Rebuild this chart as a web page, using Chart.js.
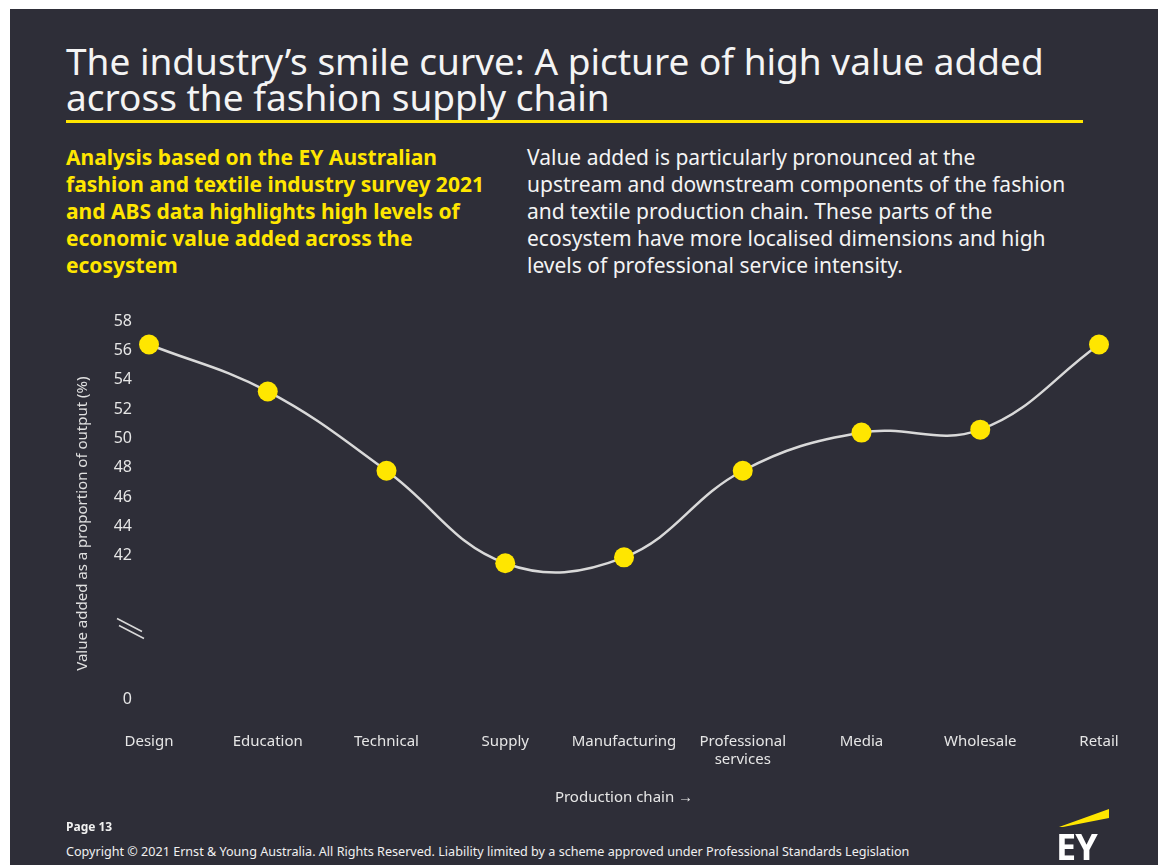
<!DOCTYPE html>
<html>
<head>
<meta charset="utf-8">
<script src="https://cdn.jsdelivr.net/npm/chart.js@4.4.0/dist/chart.umd.min.js"></script>
<style>
  body { margin: 0; background: #ffffff; font-family: 'Noto Sans', sans-serif; }
  #slide { position: absolute; left: 10px; top: 9px; width: 1148px; height: 856px; background: #2e2e38; }
  .abs { position: absolute; white-space: nowrap; }
  .title { left: 66px; font-size: 37px; line-height: 36px; color: #f4f4f4; }
  #rule { left: 66px; top: 120px; width: 1017px; height: 3px; background: #ffe600; }
  #lead { left: 66px; top: 144px; font-size: 21px; line-height: 27px; font-weight: bold; color: #ffe600; }
  #body { left: 527px; top: 144px; font-size: 21px; line-height: 27px; color: #f4f4f4; }
  #page { left: 66px; top: 819px; font-size: 12px; line-height: 16px; font-weight: bold; color: #f0f0f0; }
  #copy { left: 66px; top: 844px; font-size: 12.6px; line-height: 16px; color: #f0f0f0; }
  #eybar { left: 1059px; top: 808px; width: 51px; height: 20px; background: #ffe600;
           clip-path: polygon(0px 19px, 50px 1px, 50px 10px, 4px 19px); }
  #eytext { left: 1056px; top: 829px; font-size: 36px; line-height: 36px; font-weight: bold; color: #ffffff; letter-spacing: -1px; }
  #mycanvas { position: absolute; left: 60px; top: 300px; }
</style>
</head>
<body>
<div id="slide"></div>
<div class="abs title" style="top:43px">The industry’s smile curve: A picture of high value added</div>
<div class="abs title" style="top:79px">across the fashion supply chain</div>
<div class="abs" id="rule"></div>
<div class="abs" id="lead">Analysis based on the EY Australian<br>fashion and textile industry survey 2021<br>and ABS data highlights high levels of<br>economic value added across the<br>ecosystem</div>
<div class="abs" id="body">Value added is particularly pronounced at the<br>upstream and downstream components of the fashion<br>and textile production chain. These parts of the<br>ecosystem have more localised dimensions and high<br>levels of professional service intensity.</div>
<canvas id="mycanvas" width="1090" height="520"></canvas>
<div class="abs" id="page">Page 13</div>
<div class="abs" id="copy">Copyright © 2021 Ernst &amp; Young Australia. All Rights Reserved. Liability limited by a scheme approved under Professional Standards Legislation</div>
<div class="abs" id="eybar"></div>
<div class="abs" id="eytext">EY</div>
<script>
// production chain stages and value added (% of output)
var stages = ['Design', 'Education', 'Technical', 'Supply', 'Manufacturing', ['Professional', 'services'], 'Media', 'Wholesale', 'Retail'];
var valueAdded = [56.4, 53.2, 47.8, 41.5, 41.9, 47.8, 50.4, 50.6, 56.4];
var yTicks = [42, 44, 46, 48, 50, 52, 54, 56, 58];
// axis is broken below 42, the bottom of the scale is labelled 0
var yBottom = 32.25;
var yBreakAt = 37.05;

Chart.defaults.font.family = "'Noto Sans', sans-serif";
Chart.defaults.color = '#e6e6e6';

var axisBreak = {
	id: 'axisBreak',
	afterDraw: function(chart)
	{
		var ctx = chart.ctx;
		var y = chart.scales.y.getPixelForValue(yBreakAt);
		var x = chart.chartArea.left - 19;
		ctx.save();
		ctx.strokeStyle = '#d9d9d9';
		ctx.lineWidth = 1.5;
		ctx.beginPath();
		ctx.moveTo(x - 13, y - 10); ctx.lineTo(x + 12, y + 3);
		ctx.moveTo(x - 11, y - 3); ctx.lineTo(x + 14, y + 10);
		ctx.stroke();
		ctx.restore();
	}
};

var chartdata =
{
	labels: stages,
	datasets:
	[{
		label: 'Value added',
		data: valueAdded,
		borderColor: '#d9d9d9',
		borderWidth: 2.5,
		tension: 0.4,
		pointRadius: 10,
		pointHoverRadius: 10,
		pointBorderWidth: 0,
		pointBackgroundColor: '#ffe600'
	}]
};

var ctx = document.getElementById('mycanvas');
var lineChart = new Chart(ctx, {
	type: 'line',
	data: chartdata,
	plugins: [axisBreak],
	options: {
		responsive: false,
		animation: false,
		layout: { padding: { top: 21, right: 51, left: 0, bottom: 0 } },
		plugins: { legend: { display: false }, tooltip: { enabled: false } },
		scales: {
			x: {
				offset: false,
				grid: { display: false },
				border: { display: false },
				ticks: { color: '#e6e6e6', font: { size: 15 }, padding: 26, maxRotation: 0, autoSkip: false },
				title: { display: true, text: 'Production chain →', color: '#e6e6e6', font: { size: 15 }, padding: { top: 0, bottom: 13 } },
				afterFit: function(scale) { scale.height = 121; }
			},
			y: {
				min: yBottom,
				max: 58,
				grid: { display: false },
				border: { display: false },
				ticks: {
					color: '#e6e6e6',
					font: { size: 16 },
					padding: 9,
					callback: function(v) { return v === yBottom ? '0' : v; }
				},
				afterBuildTicks: function(scale)
				{
					scale.ticks = [yBottom].concat(yTicks).map(function(v) { return { value: v }; });
				},
				// trailing spaces nudge the rotated title down to where it sits in the original
				title: { display: true, text: 'Value added as a proportion of output (%)\u00a0\u00a0\u00a0\u00a0\u00a0\u00a0\u00a0', color: '#e0e0e0', font: { size: 15 }, padding: { top: 14, bottom: 0 } },
				afterFit: function(scale) { scale.width = 89; }
			}
		}
	}
});
</script>
</body>
</html>
